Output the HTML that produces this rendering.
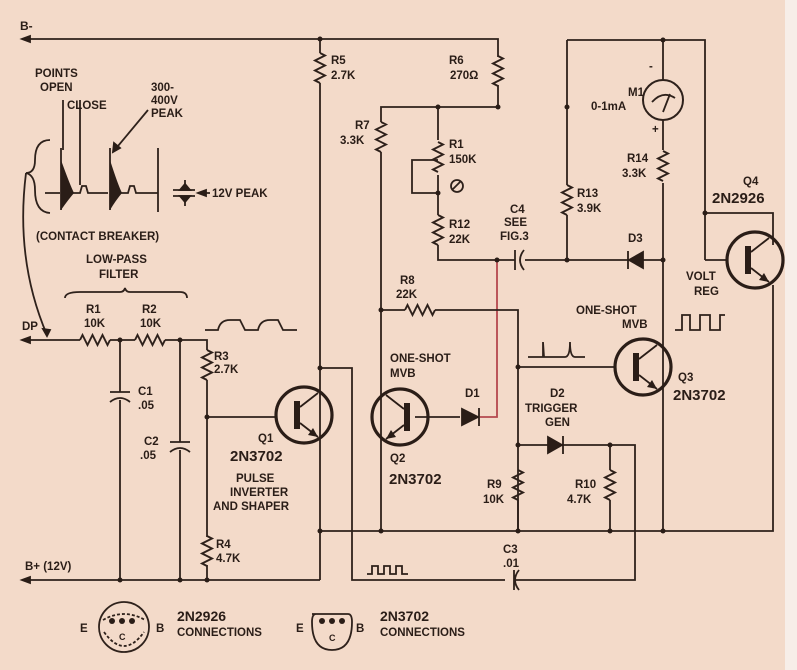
<!DOCTYPE html>
<html><head><meta charset="utf-8"><style>
html,body{margin:0;padding:0;background:#f3dac9;}
svg{display:block;font-family:"Liberation Sans",sans-serif;}
text{fill:#2a1d17;}
</style></head><body>
<svg width="797" height="670" viewBox="0 0 797 670" xmlns="http://www.w3.org/2000/svg">
<defs>
<path id="rv" d="M0,-15 l5,2.5 l-10,5 l10,5 l-10,5 l10,5 l-10,5 l5,2.5" fill="none" stroke="#2e211b" stroke-width="1.9"/>
<path id="rh" d="M-15,0 l2.5,-5 l5,10 l5,-10 l5,10 l5,-10 l5,10 l2.5,-5" fill="none" stroke="#2e211b" stroke-width="1.9"/>
<g id="qr">
<circle r="28" fill="none" stroke="#2a1d17" stroke-width="3.2"/>
<rect x="-10" y="-14" width="6" height="28" fill="#2a1d17"/>
<path d="M-4,-8 L14,-22 M-4,8 L14,22" stroke="#2a1d17" stroke-width="1.8" fill="none"/>
<path d="M14,22 l-10,-2 l5,-7z" fill="#2a1d17"/>
</g>
</defs>
<rect x="785" y="0" width="12" height="670" fill="#f7eee8"/>
<g stroke="#2e211b" stroke-width="1.8" fill="none">
<path d="M25,39 H498 V57 M498,85 V107 H381 V122 M381,152 V531"/>
<path d="M567,40 H705 V260"/>
<path d="M705,213 H773 V245"/>
<path d="M705,260 H727"/>
<path d="M567,40 V185 M567,215 V260"/>
<path d="M663,40 V80 M663,120 V150 M663,183 V531"/>
<path d="M320,39 V53 M320,83 V580"/>
<path d="M438,107 V140 M438,175 V215 M438,245 V260 H515 M525,260 H663"/>
<path d="M438,160 H412 V193 H438"/>
<path d="M497,260 V417 H480" stroke="#b5484e"/>
<path d="M381,310 H405 M435,310 H518 V531"/>
<path d="M518,367 H615"/>
<path d="M518,445 H548 M562,445 H635 V580 H515 M505,580 H352 V368 H320"/>
<path d="M610,445 V470 M610,500 V531"/>
<path d="M518,500 V531"/>
<path d="M320,531 H773 V285"/>
<path d="M415,417 H460"/>
<path d="M25,340 H80 M110,340 H135 M165,340 H207 V350 M207,380 V537 M207,565 V580"/>
<path d="M207,417 H276"/>
<path d="M25,580 H320"/>
<path d="M120,340 V392 M120,400 V580 M180,340 V442 M180,450 V580"/>
<path d="M110,392 H130 M110,402 Q120,394 130,402 M170,442 H190 M170,452 Q180,444 190,452"/>
<path d="M514,570 V590 M519,570 Q511,580 519,590"/>
<path d="M515,250 V270 M524,250 Q516,260 524,270"/>
<path d="M50,140 Q35,140 35,160 Q35,173 26,173 Q35,175 35,190 Q35,212 50,213"/>
<path d="M26,173 Q15,260 47,335"/>
<path d="M45,193 H60 M62,193 H80 L82,186 H86 L88,193 H108 M110,193 H128 L130,186 H134 L136,193 H158"/>
<path d="M61,148 V210 M110,148 V210 M158,148 V212 M63,100 V150 M80,100 V185 M148,110 L113,152"/>
<path d="M173,190 H195 M173,196 H195 M185,180 V190 M185,196 V206 M198,193 H210"/>
<path d="M65,298 Q65,292 80,292 H120 Q124,292 125,288 Q126,292 130,292 H180 Q187,292 187,298"/>
<path d="M205,330 H218 Q220,320 230,320 H240 L245,330 H258 Q260,320 270,320 H278 L283,330 H297"/>
<path d="M367,574 H372 V566 H378 V574 H384 V566 H390 V574 H396 V566 H402 V574 H408"/>
<path d="M528,357 H543 V342 L544,357 H565 Q570,357 570,342 Q570,357 575,357 H585"/>
<path d="M675,330 H682 V315 H690 V330 H700 V315 H710 V330 H720 V315 H725"/>
<circle cx="457" cy="186" r="6"/><path d="M452,190 L461,181"/>
<circle cx="663" cy="100" r="20" stroke-width="2"/>
<path d="M652,102 Q663,90 675,98 M663,112 L670,94"/>
<circle cx="124" cy="627" r="25"/><path d="M103,620 Q124,608 145,620 M104,632 Q124,660 144,632" stroke-dasharray="3,2"/>
<path d="M312,614 H348 Q352,614 352,622 Q352,650 332,650 Q312,650 312,622 Q312,614 316,614"/>
</g>
<g fill="#2a1d17">
<path d="M61,160 Q70,185 74,193 Q68,200 61,210z"/>
<path d="M110,160 Q118,185 122,193 Q116,200 110,210z"/>
</g>
<use href="#rv" x="320" y="68"/>
<use href="#rv" x="498" y="71"/>
<use href="#rv" x="381" y="137"/>
<use href="#rv" x="438" y="157"/>
<use href="#rv" x="438" y="230"/>
<use href="#rv" x="567" y="200"/>
<use href="#rv" x="663" y="166"/>
<use href="#rh" x="420" y="310"/>
<use href="#rv" x="518" y="485"/>
<use href="#rv" x="610" y="485"/>
<use href="#rh" x="95" y="340"/>
<use href="#rh" x="150" y="340"/>
<use href="#rv" x="207" y="365"/>
<use href="#rv" x="207" y="551"/>
<use href="#qr" x="304" y="415"/>
<use href="#qr" x="643" y="367"/>
<use href="#qr" x="755" y="260"/>
<use href="#qr" transform="translate(400,417) scale(-1,1)"/>
<g fill="#2a1d17" stroke="#2a1d17" stroke-width="1.8">
<path d="M462,409 V425 L478,417z"/><path d="M479,408 V426"/>
<path d="M548,437 V453 L562,445z"/><path d="M563,436 V454"/>
<path d="M643,252 V268 L629,260z"/><path d="M628,251 V269"/>
<path d="M22,39 l8,-3 v6z M22,340 l8,-3 v6z M22,580 l8,-3 v6z M47,336 l-4,-7 l7,1z M180,190 l5,-6 l5,6z M180,196 l5,6 l5,-6z M198,193 l8,-3 v6z M113,152 l1,-9 l6,5z"/>
</g>
<g fill="#2a1d17">
<circle cx="320" cy="39" r="2.5"/><circle cx="438" cy="107" r="2.5"/><circle cx="498" cy="107" r="2.5"/><circle cx="567" cy="107" r="2.5"/><circle cx="663" cy="40" r="2.5"/>
<circle cx="438" cy="193" r="2.5"/><circle cx="497" cy="260" r="2.5"/><circle cx="567" cy="260" r="2.5"/><circle cx="663" cy="260" r="2.5"/><circle cx="705" cy="213" r="2.5"/>
<circle cx="381" cy="310" r="2.5"/><circle cx="518" cy="367" r="2.5"/><circle cx="518" cy="445" r="2.5"/><circle cx="610" cy="445" r="2.5"/>
<circle cx="320" cy="368" r="2.5"/><circle cx="320" cy="531" r="2.5"/><circle cx="381" cy="531" r="2.5"/><circle cx="518" cy="531" r="2.5"/><circle cx="610" cy="531" r="2.5"/><circle cx="663" cy="531" r="2.5"/>
<circle cx="120" cy="340" r="2.5"/><circle cx="180" cy="340" r="2.5"/><circle cx="207" cy="417" r="2.5"/><circle cx="120" cy="580" r="2.5"/><circle cx="180" cy="580" r="2.5"/><circle cx="207" cy="580" r="2.5"/>
<circle cx="112" cy="621" r="3"/><circle cx="122" cy="621" r="3"/><circle cx="132" cy="621" r="3"/>
<circle cx="322" cy="621" r="3"/><circle cx="332" cy="621" r="3"/><circle cx="342" cy="621" r="3"/>
</g>
<g font-size="11.5" font-weight="bold">
<text x="20" y="30" font-size="12">B-</text>
<text x="35" y="77">POINTS</text><text x="40" y="91">OPEN</text><text x="67" y="109">CLOSE</text>
<text x="151" y="91">300-</text><text x="151" y="104">400V</text><text x="151" y="117">PEAK</text>
<text x="212" y="197">12V PEAK</text>
<text x="36" y="240">(CONTACT BREAKER)</text>
<text x="86" y="263">LOW-PASS</text><text x="99" y="278">FILTER</text>
<text x="86" y="313">R1</text><text x="84" y="327">10K</text><text x="142" y="313">R2</text><text x="140" y="327">10K</text>
<text x="22" y="330">DP</text>
<text x="214" y="360">R3</text><text x="214" y="373">2.7K</text>
<text x="138" y="395">C1</text><text x="138" y="409">.05</text>
<text x="144" y="445">C2</text><text x="140" y="459">.05</text>
<text x="258" y="442">Q1</text>
<text x="230" y="461" font-size="15">2N3702</text>
<text x="236" y="482">PULSE</text><text x="230" y="496">INVERTER</text><text x="213" y="510">AND SHAPER</text>
<text x="216" y="548">R4</text><text x="216" y="562">4.7K</text>
<text x="25" y="570">B+ (12V)</text>
<text x="80" y="632">E</text><text x="156" y="632">B</text><text x="119" y="640" font-size="9">C</text>
<text x="177" y="621" font-size="14">2N2926</text><text x="177" y="636">CONNECTIONS</text>
<text x="296" y="632">E</text><text x="356" y="632">B</text><text x="329" y="641" font-size="9">C</text>
<text x="380" y="621" font-size="14">2N3702</text><text x="380" y="636">CONNECTIONS</text>
<text x="331" y="64">R5</text><text x="331" y="79">2.7K</text>
<text x="449" y="64">R6</text><text x="450" y="79">270Ω</text>
<text x="355" y="129">R7</text><text x="340" y="144">3.3K</text>
<text x="449" y="148">R1</text><text x="449" y="163">150K</text>
<text x="449" y="228">R12</text><text x="449" y="243">22K</text>
<text x="510" y="213">C4</text><text x="504" y="226">SEE</text><text x="500" y="240">FIG.3</text>
<text x="577" y="197">R13</text><text x="577" y="212">3.9K</text>
<text x="628" y="96">M1</text><text x="591" y="110">0-1mA</text>
<text x="649" y="70">-</text><text x="652" y="133">+</text>
<text x="627" y="162">R14</text><text x="622" y="177">3.3K</text>
<text x="743" y="185">Q4</text>
<text x="712" y="203" font-size="15">2N2926</text>
<text x="628" y="242">D3</text>
<text x="686" y="280">VOLT</text><text x="694" y="295">REG</text>
<text x="400" y="284">R8</text><text x="396" y="298">22K</text>
<text x="576" y="314">ONE-SHOT</text><text x="622" y="328">MVB</text>
<text x="390" y="362">ONE-SHOT</text><text x="390" y="377">MVB</text>
<text x="465" y="397">D1</text>
<text x="550" y="397">D2</text><text x="525" y="412">TRIGGER</text><text x="545" y="426">GEN</text>
<text x="678" y="381">Q3</text>
<text x="673" y="400" font-size="15">2N3702</text>
<text x="390" y="462">Q2</text>
<text x="389" y="484" font-size="15">2N3702</text>
<text x="487" y="488">R9</text><text x="483" y="503">10K</text>
<text x="575" y="488">R10</text><text x="567" y="503">4.7K</text>
<text x="503" y="553">C3</text><text x="503" y="567">.01</text>
</g>
</svg>
</body></html>
